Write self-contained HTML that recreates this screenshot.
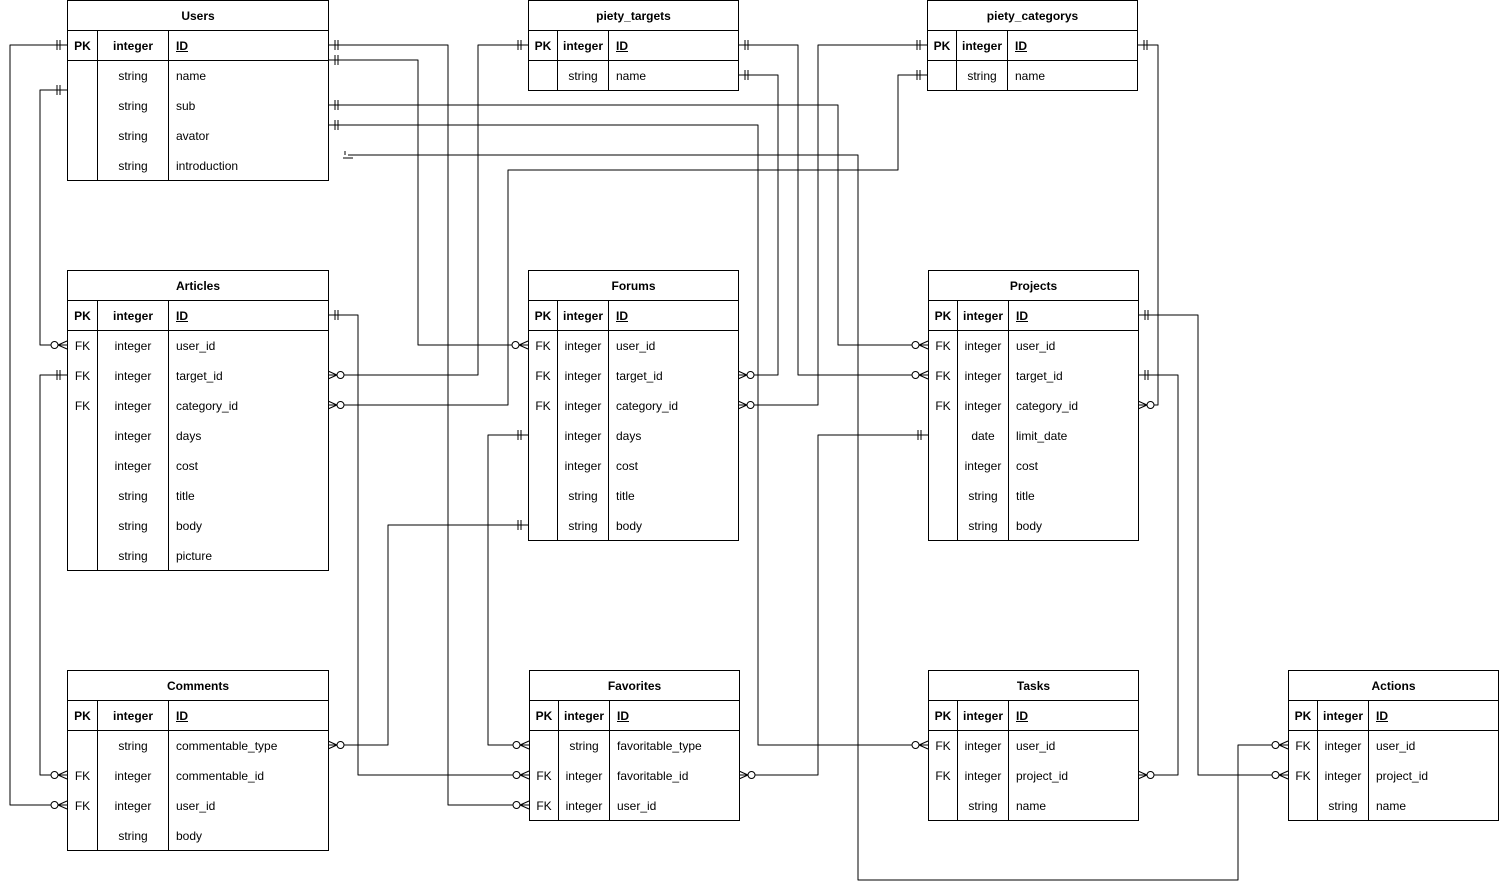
<!DOCTYPE html>
<html><head><meta charset="utf-8"><style>
body{margin:0;width:1499px;height:890px;background:#fff;position:relative;overflow:hidden;font-family:"Liberation Sans",Arial,sans-serif;font-size:12px;color:#000}
.t{position:absolute;border:1px solid #000;background:#fff;box-sizing:border-box}
.h{height:30px;line-height:30px;text-align:center;font-weight:bold;border-bottom:1px solid #000;box-sizing:border-box}
.r{height:30px;line-height:30px;display:flex}
.r.pk{font-weight:bold;border-bottom:1px solid #000;box-sizing:border-box}
.r div{box-sizing:border-box;height:100%}
.a{text-align:center;border-right:1px solid #000}
.b{text-align:center;border-right:1px solid #000}
.c{padding-left:7px}
.pk .c{text-decoration:underline}
svg{position:absolute;left:0;top:0}
</style></head><body>
<svg width="1499" height="890">
<defs>
<g id="one"><path d="M7,-5V5M10,-5V5" stroke="#000" fill="none"/></g>
<g id="many"><path d="M0,-4L9,0L0,4M0,0H9" stroke="#000" fill="none"/><circle cx="12.5" cy="0" r="3.5" fill="#fff" stroke="#000"/></g>
</defs>
<g fill="none" stroke="#000" stroke-width="1" stroke-linejoin="round">
<path d="M67,45H10V805H67"/>
<path d="M328,60H418V345H528"/>
<path d="M328,45H448V805H529"/>
<path d="M67,90H40V345H67"/>
<path d="M328,105H838V345H928"/>
<path d="M328,125H758V745H928"/>
<path d="M348,155H858V880H1238V745H1288"/>
<path d="M1138,315H1198V775H1288"/>
<path d="M528,45H478V375H328"/>
<path d="M738,45H798V375H928"/>
<path d="M738,75H778V375H738"/>
<path d="M927,45H818V405H738"/>
<path d="M927,75H898V170H508V405H328"/>
<path d="M1137,45H1158V405H1138"/>
<path d="M328,315H358V775H529"/>
<path d="M67,375H40V775H67"/>
<path d="M528,435H488V745H529"/>
<path d="M528,525H388V745H328"/>
<path d="M928,435H818V775H739"/>
<path d="M1138,375H1178V775H1138"/>
<path d="M345,151V155M343,158H353" />
</g>
<!-- one markers -->
<use href="#one" transform="translate(67,45) scale(-1,1)"/>
<use href="#one" transform="translate(328,60)"/>
<use href="#one" transform="translate(328,45)"/>
<use href="#one" transform="translate(67,90) scale(-1,1)"/>
<use href="#one" transform="translate(328,105)"/>
<use href="#one" transform="translate(328,125)"/>
<use href="#one" transform="translate(1138,315)"/>
<use href="#one" transform="translate(528,45) scale(-1,1)"/>
<use href="#one" transform="translate(738,45)"/>
<use href="#one" transform="translate(738,75)"/>
<use href="#one" transform="translate(927,45) scale(-1,1)"/>
<use href="#one" transform="translate(927,75) scale(-1,1)"/>
<use href="#one" transform="translate(1137,45)"/>
<use href="#one" transform="translate(328,315)"/>
<use href="#one" transform="translate(67,375) scale(-1,1)"/>
<use href="#one" transform="translate(528,435) scale(-1,1)"/>
<use href="#one" transform="translate(528,525) scale(-1,1)"/>
<use href="#one" transform="translate(928,435) scale(-1,1)"/>
<use href="#one" transform="translate(1138,375)"/>
<!-- many markers -->
<use href="#many" transform="translate(67,805) scale(-1,1)"/>
<use href="#many" transform="translate(528,345) scale(-1,1)"/>
<use href="#many" transform="translate(529,805) scale(-1,1)"/>
<use href="#many" transform="translate(67,345) scale(-1,1)"/>
<use href="#many" transform="translate(928,345) scale(-1,1)"/>
<use href="#many" transform="translate(928,745) scale(-1,1)"/>
<use href="#many" transform="translate(1288,745) scale(-1,1)"/>
<use href="#many" transform="translate(1288,775) scale(-1,1)"/>
<use href="#many" transform="translate(328,375)"/>
<use href="#many" transform="translate(928,375) scale(-1,1)"/>
<use href="#many" transform="translate(738,375)"/>
<use href="#many" transform="translate(738,405)"/>
<use href="#many" transform="translate(328,405)"/>
<use href="#many" transform="translate(1138,405)"/>
<use href="#many" transform="translate(529,775) scale(-1,1)"/>
<use href="#many" transform="translate(67,775) scale(-1,1)"/>
<use href="#many" transform="translate(529,745) scale(-1,1)"/>
<use href="#many" transform="translate(328,745)"/>
<use href="#many" transform="translate(739,775)"/>
<use href="#many" transform="translate(1138,775)"/>
</svg>

<div class="t" style="left:67px;top:0;width:262px;height:181px">
<div class="h">Users</div>
<div class="r pk"><div class="a" style="width:30px">PK</div><div class="b" style="width:71px">integer</div><div class="c">ID</div></div>
<div class="r"><div class="a" style="width:30px"></div><div class="b" style="width:71px">string</div><div class="c">name</div></div>
<div class="r"><div class="a" style="width:30px"></div><div class="b" style="width:71px">string</div><div class="c">sub</div></div>
<div class="r"><div class="a" style="width:30px"></div><div class="b" style="width:71px">string</div><div class="c">avator</div></div>
<div class="r"><div class="a" style="width:30px"></div><div class="b" style="width:71px">string</div><div class="c">introduction</div></div>
</div>

<div class="t" style="left:528px;top:0;width:211px;height:91px">
<div class="h">piety_targets</div>
<div class="r pk"><div class="a" style="width:29px">PK</div><div class="b" style="width:51px">integer</div><div class="c">ID</div></div>
<div class="r"><div class="a" style="width:29px"></div><div class="b" style="width:51px">string</div><div class="c">name</div></div>
</div>

<div class="t" style="left:927px;top:0;width:211px;height:91px">
<div class="h">piety_categorys</div>
<div class="r pk"><div class="a" style="width:29px">PK</div><div class="b" style="width:51px">integer</div><div class="c">ID</div></div>
<div class="r"><div class="a" style="width:29px"></div><div class="b" style="width:51px">string</div><div class="c">name</div></div>
</div>

<div class="t" style="left:67px;top:270px;width:262px;height:301px">
<div class="h">Articles</div>
<div class="r pk"><div class="a" style="width:30px">PK</div><div class="b" style="width:71px">integer</div><div class="c">ID</div></div>
<div class="r"><div class="a" style="width:30px">FK</div><div class="b" style="width:71px">integer</div><div class="c">user_id</div></div>
<div class="r"><div class="a" style="width:30px">FK</div><div class="b" style="width:71px">integer</div><div class="c">target_id</div></div>
<div class="r"><div class="a" style="width:30px">FK</div><div class="b" style="width:71px">integer</div><div class="c">category_id</div></div>
<div class="r"><div class="a" style="width:30px"></div><div class="b" style="width:71px">integer</div><div class="c">days</div></div>
<div class="r"><div class="a" style="width:30px"></div><div class="b" style="width:71px">integer</div><div class="c">cost</div></div>
<div class="r"><div class="a" style="width:30px"></div><div class="b" style="width:71px">string</div><div class="c">title</div></div>
<div class="r"><div class="a" style="width:30px"></div><div class="b" style="width:71px">string</div><div class="c">body</div></div>
<div class="r"><div class="a" style="width:30px"></div><div class="b" style="width:71px">string</div><div class="c">picture</div></div>
</div>

<div class="t" style="left:528px;top:270px;width:211px;height:271px">
<div class="h">Forums</div>
<div class="r pk"><div class="a" style="width:29px">PK</div><div class="b" style="width:51px">integer</div><div class="c">ID</div></div>
<div class="r"><div class="a" style="width:29px">FK</div><div class="b" style="width:51px">integer</div><div class="c">user_id</div></div>
<div class="r"><div class="a" style="width:29px">FK</div><div class="b" style="width:51px">integer</div><div class="c">target_id</div></div>
<div class="r"><div class="a" style="width:29px">FK</div><div class="b" style="width:51px">integer</div><div class="c">category_id</div></div>
<div class="r"><div class="a" style="width:29px"></div><div class="b" style="width:51px">integer</div><div class="c">days</div></div>
<div class="r"><div class="a" style="width:29px"></div><div class="b" style="width:51px">integer</div><div class="c">cost</div></div>
<div class="r"><div class="a" style="width:29px"></div><div class="b" style="width:51px">string</div><div class="c">title</div></div>
<div class="r"><div class="a" style="width:29px"></div><div class="b" style="width:51px">string</div><div class="c">body</div></div>
</div>

<div class="t" style="left:928px;top:270px;width:211px;height:271px">
<div class="h">Projects</div>
<div class="r pk"><div class="a" style="width:29px">PK</div><div class="b" style="width:51px">integer</div><div class="c">ID</div></div>
<div class="r"><div class="a" style="width:29px">FK</div><div class="b" style="width:51px">integer</div><div class="c">user_id</div></div>
<div class="r"><div class="a" style="width:29px">FK</div><div class="b" style="width:51px">integer</div><div class="c">target_id</div></div>
<div class="r"><div class="a" style="width:29px">FK</div><div class="b" style="width:51px">integer</div><div class="c">category_id</div></div>
<div class="r"><div class="a" style="width:29px"></div><div class="b" style="width:51px">date</div><div class="c">limit_date</div></div>
<div class="r"><div class="a" style="width:29px"></div><div class="b" style="width:51px">integer</div><div class="c">cost</div></div>
<div class="r"><div class="a" style="width:29px"></div><div class="b" style="width:51px">string</div><div class="c">title</div></div>
<div class="r"><div class="a" style="width:29px"></div><div class="b" style="width:51px">string</div><div class="c">body</div></div>
</div>

<div class="t" style="left:67px;top:670px;width:262px;height:181px">
<div class="h">Comments</div>
<div class="r pk"><div class="a" style="width:30px">PK</div><div class="b" style="width:71px">integer</div><div class="c">ID</div></div>
<div class="r"><div class="a" style="width:30px"></div><div class="b" style="width:71px">string</div><div class="c">commentable_type</div></div>
<div class="r"><div class="a" style="width:30px">FK</div><div class="b" style="width:71px">integer</div><div class="c">commentable_id</div></div>
<div class="r"><div class="a" style="width:30px">FK</div><div class="b" style="width:71px">integer</div><div class="c">user_id</div></div>
<div class="r"><div class="a" style="width:30px"></div><div class="b" style="width:71px">string</div><div class="c">body</div></div>
</div>

<div class="t" style="left:529px;top:670px;width:211px;height:151px">
<div class="h">Favorites</div>
<div class="r pk"><div class="a" style="width:29px">PK</div><div class="b" style="width:51px">integer</div><div class="c">ID</div></div>
<div class="r"><div class="a" style="width:29px"></div><div class="b" style="width:51px">string</div><div class="c">favoritable_type</div></div>
<div class="r"><div class="a" style="width:29px">FK</div><div class="b" style="width:51px">integer</div><div class="c">favoritable_id</div></div>
<div class="r"><div class="a" style="width:29px">FK</div><div class="b" style="width:51px">integer</div><div class="c">user_id</div></div>
</div>

<div class="t" style="left:928px;top:670px;width:211px;height:151px">
<div class="h">Tasks</div>
<div class="r pk"><div class="a" style="width:29px">PK</div><div class="b" style="width:51px">integer</div><div class="c">ID</div></div>
<div class="r"><div class="a" style="width:29px">FK</div><div class="b" style="width:51px">integer</div><div class="c">user_id</div></div>
<div class="r"><div class="a" style="width:29px">FK</div><div class="b" style="width:51px">integer</div><div class="c">project_id</div></div>
<div class="r"><div class="a" style="width:29px"></div><div class="b" style="width:51px">string</div><div class="c">name</div></div>
</div>

<div class="t" style="left:1288px;top:670px;width:211px;height:151px">
<div class="h">Actions</div>
<div class="r pk"><div class="a" style="width:29px">PK</div><div class="b" style="width:51px">integer</div><div class="c">ID</div></div>
<div class="r"><div class="a" style="width:29px">FK</div><div class="b" style="width:51px">integer</div><div class="c">user_id</div></div>
<div class="r"><div class="a" style="width:29px">FK</div><div class="b" style="width:51px">integer</div><div class="c">project_id</div></div>
<div class="r"><div class="a" style="width:29px"></div><div class="b" style="width:51px">string</div><div class="c">name</div></div>
</div>
</body></html>
